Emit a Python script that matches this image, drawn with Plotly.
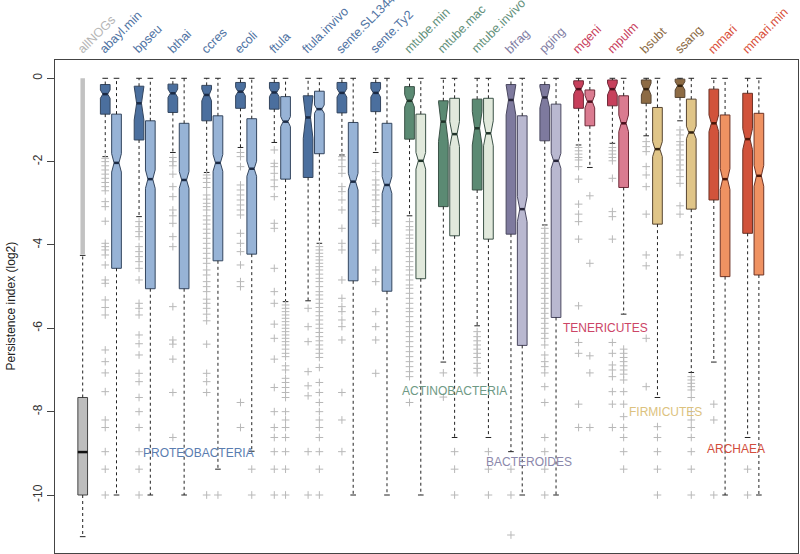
import plotly.graph_objects as go

# ---------------- data ----------------
species = ["abayl.min", "bpseu", "bthai", "ccres", "ecoli", "ftula", "ftula.invivo",
           "sente.SL1344", "sente.Ty2", "mtube.min", "mtube.mac", "mtube.invivo",
           "bfrag", "pging", "mgeni", "mpulm", "bsubt", "ssang", "mmari", "mmari.min"]
phylum = ["PROTEOBACTERIA"] * 9 + ["ACTINOBACTERIA"] * 3 + ["BACTEROIDES"] * 2 + \
         ["TENERICUTES"] * 2 + ["FIRMICUTES"] * 2 + ["ARCHAEA"] * 2

# first (dark) box of each pair
dark_hi = [0, 0, 0, 0, 0, 0, 0, 0, 0, 0, 0, 0, 0, 0, 0, 0, 0, 0, 0, 0]
dark_q3 = [-0.15, -0.19, -0.14, -0.17, -0.10, -0.10, -0.42, -0.10, -0.10, -0.20,
           -0.54, -0.50, -0.15, -0.15, -0.06, -0.04, -0.04, -0.02, -0.26, -0.36]
dark_med = [-0.38, -0.60, -0.36, -0.40, -0.32, -0.34, -0.94, -0.35, -0.35, -0.54,
            -1.04, -1.20, -0.52, -0.46, -0.26, -0.26, -0.26, -0.18, -1.08, -1.46]
dark_q1 = [-0.86, -1.48, -0.82, -1.02, -0.72, -0.74, -2.38, -0.83, -0.80, -1.46,
           -3.08, -2.68, -3.74, -1.50, -0.72, -0.66, -0.60, -0.46, -2.92, -3.72]
dark_lo = [-1.88, -3.32, -1.78, -2.26, -1.66, -1.54, -5.34, -1.84, -1.78, -3.30,
           -6.81, -5.94, -8.96, -3.52, -1.60, -1.56, -1.38, -1.02, -6.81, -8.62]
dark_notch = [0.10, 0.40, 0.10, 0.14, 0.10, 0.10, 0.50, 0.10, 0.10, 0.15,
              0.48, 0.40, 0.36, 0.25, 0.12, 0.14, 0.14, 0.10, 0.20, 0.25]

# second (light) box of each pair
light_hi = [0, 0, 0, 0, 0, 0, 0, 0, 0, 0, 0, 0, 0, 0, 0, 0, 0, 0, 0, 0]
light_q3 = [-0.86, -1.02, -1.08, -0.90, -0.97, -0.44, -0.31, -1.06, -1.08, -0.86,
            -0.48, -0.48, -0.90, -0.62, -0.28, -0.42, -0.70, -0.50, -0.88, -0.84]
light_med = [-2.03, -2.42, -2.44, -2.03, -2.17, -1.04, -0.74, -2.48, -2.56, -1.98,
             -1.34, -1.32, -3.14, -1.98, -0.56, -1.08, -1.70, -1.30, -2.42, -2.34]
light_q1 = [-4.56, -5.05, -5.05, -4.38, -4.22, -2.42, -1.81, -4.86, -5.11, -4.81,
            -3.78, -3.86, -6.41, -5.74, -1.14, -2.62, -3.50, -3.14, -4.76, -4.72]
light_lo = [-10, -10, -10, -9.38, -8.95, -5.36, -3.96, -10, -10, -10,
            -8.62, -8.62, -10, -10, -2.14, -5.66, -7.66, -7.06, -10, -10]
light_notch = [0.22, 0.22, 0.20, 0.20, 0.18, 0.12, 0.10, 0.20, 0.20, 0.20,
               0.30, 0.30, 0.30, 0.18, 0.15, 0.20, 0.18, 0.15, 0.25, 0.25]

dark_outliers = [
    [-1.92, -2.0, -2.1, -2.2, -2.3, -2.4, -2.5, -2.6, -2.7, -2.96, -3.08, -3.43, -3.96, -4.04, -4.12,
     -4.24, -4.48, -4.84, -4.92, -5.32, -5.5, -5.68, -6.52, -6.8, -7.07, -7.52, -8.2, -8.38, -8.96, -9.38, -10],
    [-3.44, -3.56, -3.68, -3.8, -4.04, -4.16, -4.28, -4.4, -4.56, -4.84, -5.4, -5.52, -5.68, -6.16,
     -6.37, -6.64, -7.08, -7.28, -7.66, -8.0, -8.38, -8.96, -9.38, -10],
    [-1.9, -2.0, -2.1, -2.3, -2.6, -2.84, -3.16, -3.3, -3.48, -3.8, -4.04, -5.48, -6.28, -6.38, -6.74,
     -7.54, -8.62],
    [-2.32, -2.4, -2.5, -2.62, -2.8, -2.9, -3.0, -3.08, -3.16, -3.3, -3.4, -3.5, -3.62, -3.72, -3.84,
     -3.96, -4.08, -4.2, -4.32, -4.44, -4.6, -4.72, -4.88, -5.0, -5.12, -5.3, -5.4, -5.52, -5.66, -5.82,
     -6.38, -7.08, -7.28, -7.54, -10],
    [-1.78, -1.88, -2.12, -2.56, -2.68, -2.8, -2.92, -3.04, -3.16, -3.28, -3.72, -3.96, -4.16, -4.48,
     -4.88, -5.0, -7.78, -8.38],
    [-1.72, -2.04, -2.12, -2.28, -2.44, -2.6, -2.84, -3.48, -3.6, -4.56, -5.12, -5.4, -5.9, -6.24,
     -6.74, -7.42, -8.0, -8.38, -8.62, -8.96, -9.38, -10],
    [-5.52, -5.96, -6.32, -7.04, -7.38, -7.62, -8.96, -10],
    [-1.88, -1.96, -2.12, -2.28, -2.6, -2.72, -2.92, -3.16, -3.6, -3.96, -4.12, -4.84, -5.28, -5.48,
     -5.6, -5.8, -5.96, -6.28, -7.54, -8.2, -8.96],
    [-2.04, -2.24, -2.44, -2.56, -2.68, -2.8, -2.92, -3.08, -3.2, -3.4, -3.48, -3.96, -4.12, -4.6,
     -4.88, -5.6, -5.96, -6.28, -7.08],
    [-3.44, -3.56, -3.64, -3.76, -3.84, -3.96, -4.08, -4.16, -4.28, -4.4, -4.52, -4.6, -4.72, -4.84,
     -4.96, -5.04, -5.16, -5.28, -5.4, -5.52, -5.6, -5.72, -5.84, -5.96, -6.08, -6.2, -6.32, -6.44,
     -6.56, -6.68, -6.8, -6.92, -7.04, -7.16, -7.78],
    [-7.07, -7.65],
    [-6.08, -6.2, -6.3, -6.4, -6.5, -6.6, -6.7, -6.84, -6.96, -7.07],
    [-9.38, -10, -10.96],
    [-3.6, -3.72, -3.84, -3.96, -4.08, -4.2, -4.32, -4.44, -4.56, -4.68, -4.8, -4.92, -5.04, -5.16,
     -5.28, -5.4, -5.52, -5.64, -5.76, -5.88, -6.0, -6.12, -6.24, -6.4, -6.64, -6.8, -6.92, -7.07,
     -7.4, -7.78, -8.62, -8.96, -9.38, -10],
    [-1.66, -1.74, -1.82, -1.9, -1.96, -2.12, -2.42, -3.02, -3.26, -3.44, -3.86, -5.46, -6.34, -6.6,
     -7.82, -8.38],
    [-1.66, -1.74, -1.82, -1.9, -1.98, -2.4, -3.2, -3.32, -3.86, -6.34, -6.6, -6.88, -7.0, -7.16,
     -7.52, -7.82, -8.38],
    [-1.52, -1.64, -1.76, -2.12, -2.32, -2.6, -3.26, -4.24, -4.5, -6.24, -7.4],
    [-1.24, -1.36, -1.52, -1.6, -1.72, -1.84, -1.96, -2.08, -2.2, -2.36, -2.52, -3.06, -3.26, -4.24],
    [-7.82, -8.2, -10],
    [-9.38, -10],
]
light_outliers = [
    [], [], [], [-10], [-9.38, -10],
    [-5.44, -5.52, -5.6, -5.68, -5.76, -5.84, -5.92, -6.0, -6.08, -6.16, -6.24, -6.32, -6.4, -6.5,
     -6.6, -6.68, -6.9, -7.0, -7.2, -7.3, -7.42, -7.54, -7.66, -8.0, -8.2, -8.38, -8.62, -8.96, -9.38, -10],
    [-4.04, -4.12, -4.2, -4.28, -4.36, -4.44, -4.52, -4.6, -4.7, -4.8, -4.88, -5.0, -5.12, -5.2, -5.3,
     -5.4, -5.5, -5.6, -5.7, -5.8, -5.9, -6.0, -6.1, -6.2, -6.3, -6.4, -6.5, -6.6, -6.7, -6.94, -7.3,
     -7.54, -7.78, -8.0, -8.2, -8.38, -8.62, -8.96, -9.38, -10],
    [], [], [],
    [-8.96, -9.38, -10],
    [-8.96, -9.38, -10],
    [], [],
    [-2.82, -4.44, -6.66, -7.07, -8.38],
    [-6.5, -6.6, -6.7, -6.8, -6.9, -7.0, -7.1, -7.24, -7.52, -7.82, -8.12, -8.38, -8.62, -8.96, -9.38],
    [-8.36, -8.62, -8.96, -9.38, -10],
    [-7.16, -7.24, -7.32, -7.4, -7.48, -7.66, -8.0, -8.2, -8.38, -8.62, -8.96, -9.38, -10],
    [], [],
]

allnogs_label = "allNOGs"
allnogs_hi, allnogs_q3, allnogs_med, allnogs_q1, allnogs_lo = -4.25, -7.66, -8.97, -10.0, -11.0
allnogs_outlier_span = [-4.22, 0.0]

yticks = [0, -2, -4, -6, -8, -10]

# ---------------- styles ----------------
STY = {
    "PROTEOBACTERIA": dict(dark="#4b6f9e", light="#97b3d6", line="#34465f", med="#1b2a44",
                           lab="#4f73a3", txt="#5a7db0", pos=10.3, val=-9.0),
    "ACTINOBACTERIA": dict(dark="#5b8a73", light="#e1e9dc", line="#3b5247", med="#1f3329",
                           lab="#62907a", txt="#6e9984", pos=32.95, val=-7.5),
    "BACTEROIDES": dict(dark="#7e7a9e", light="#b9b8d0", line="#4a4860", med="#262438",
                        lab="#807ca3", txt="#8b88ab", pos=39.6, val=-9.2),
    "TENERICUTES": dict(dark="#c73f5b", light="#da7b90", line="#6e2a38", med="#4a0f1c",
                        lab="#c8405d", txt="#cc4566", pos=46.43, val=-6.0),
    "FIRMICUTES": dict(dark="#8d6b44", light="#e0c588", line="#574532", med="#33220f",
                       lab="#8b6a45", txt="#dcc27e", pos=51.67, val=-8.0),
    "ARCHAEA": dict(dark="#d1533b", light="#ef9262", line="#6e3326", med="#4a1608",
                    lab="#d9503c", txt="#d24d3c", pos=57.97, val=-8.9),
}
BOXW = 0.86
FONT = "Liberation Sans, Arial, sans-serif"

fig = go.Figure()

boxes = []  # (pos, hi, q3, med, q1, lo, notch, fill, line, med_col, outliers)
for i, sp in enumerate(species):
    s = STY[phylum[i]]
    pd_, pl_ = 2 + 3 * i, 3 + 3 * i
    boxes.append((pd_, dark_hi[i], dark_q3[i], dark_med[i], dark_q1[i], dark_lo[i], dark_notch[i],
                  s["dark"], s["line"], s["med"], dark_outliers[i]))
    boxes.append((pl_, light_hi[i], light_q3[i], light_med[i], light_q1[i], light_lo[i], light_notch[i],
                  s["light"], s["line"], s["med"], light_outliers[i]))

# whiskers (dashed) and staples
wx, wy, cx, cy = [], [], [], []
allb = [(0, allnogs_hi, allnogs_q3, allnogs_med, allnogs_q1, allnogs_lo)] + [b[:6] for b in boxes]
for (p, hi, q3, med, q1, lo) in allb:
    if hi > q3:
        wx += [p, p, None]; wy += [q3, hi, None]
        cx += [p - 0.25, p + 0.25, None]; cy += [hi, hi, None]
    if lo < q1:
        wx += [p, p, None]; wy += [q1, lo, None]
        cx += [p - 0.25, p + 0.25, None]; cy += [lo, lo, None]

# allNOGs dense outlier band
fig.add_trace(go.Scatter(x=[0, 0], y=allnogs_outlier_span, mode="lines",
                         line=dict(color="#c2c2c2", width=4.5), hoverinfo="skip", showlegend=False))

fig.add_trace(go.Scatter(x=wx, y=wy, mode="lines", line=dict(color="#222222", width=1, dash="3px,3px"),
                         hoverinfo="skip", showlegend=False))
fig.add_trace(go.Scatter(x=cx, y=cy, mode="lines", line=dict(color="#222222", width=1),
                         hoverinfo="skip", showlegend=False))

# outliers
ox, oy = [], []
for b in boxes:
    for v in b[10]:
        ox.append(b[0]); oy.append(v)
fig.add_trace(go.Scatter(x=ox, y=oy, mode="markers",
                         marker=dict(symbol="cross-thin", size=5.5, color="#b8b8b8",
                                     line=dict(width=1, color="#b8b8b8")),
                         hoverinfo="skip", showlegend=False))

# allNOGs box
fig.add_trace(go.Box(x=[0], q1=[allnogs_q1], median=[allnogs_med], q3=[allnogs_q3],
                     lowerfence=[allnogs_q1], upperfence=[allnogs_q3], width=BOXW,
                     fillcolor="#bdbdbd", line=dict(color="#444444", width=1), whiskerwidth=0,
                     boxpoints=False, showlegend=False, hoverinfo="skip"))

shapes = []
shapes.append(dict(type="line", xref="x", yref="y", x0=-BOXW / 2, x1=BOXW / 2,
                   y0=allnogs_med, y1=allnogs_med, line=dict(color="#111111", width=2.5), layer="above"))

for (p, hi, q3, med, q1, lo, notch, fill, lc, mc, outl) in boxes:
    fig.add_trace(go.Box(x=[p], q1=[q1], median=[med], q3=[q3], lowerfence=[q1], upperfence=[q3],
                         notched=True, notchspan=[notch], notchwidth=0.25, width=BOXW,
                         fillcolor=fill, line=dict(color=lc, width=1), whiskerwidth=0,
                         boxpoints=False, showlegend=False, hoverinfo="skip"))
    shapes.append(dict(type="line", xref="x", yref="y", x0=p - BOXW / 4, x1=p + BOXW / 4,
                       y0=med, y1=med, line=dict(color=mc, width=2.5), layer="above"))

annotations = []
# top rotated labels
top_labels = [(0, allnogs_label, "#b5b5b5")] + \
    [(2 + 3 * i, sp, STY[phylum[i]]["lab"]) for i, sp in enumerate(species)]
for p, t, c in top_labels:
    annotations.append(dict(x=p, y=1, xref="x", yref="paper", text=t, showarrow=False,
                            textangle=-45, xanchor="left", yanchor="bottom",
                            xshift=-11, yshift=1, font=dict(size=12.5, color=c, family=FONT)))
# phylum labels
for name, s in STY.items():
    annotations.append(dict(x=s["pos"], y=s["val"], xref="x", yref="y", text=name, showarrow=False,
                            font=dict(size=12, color=s["txt"], family=FONT)))
# y title
annotations.append(dict(x=0, y=0.5, xref="paper", yref="paper", text="Persistence index (log2)",
                        showarrow=False, textangle=-90, xanchor="center", yanchor="middle",
                        xshift=-45, font=dict(size=12, color="#222222", family=FONT)))

fig.update_layout(
    width=800, height=554, autosize=False,
    margin=dict(l=55, r=2, t=60, b=1, pad=0),
    paper_bgcolor="white", plot_bgcolor="white",
    boxmode="overlay", showlegend=False,
    font=dict(family=FONT, size=12, color="#333333"),
    shapes=shapes, annotations=annotations,
    xaxis=dict(range=[-2.458, 63.47], type="linear", showgrid=False, zeroline=False, automargin=False,
               showticklabels=False, ticks="", showline=True, mirror=True,
               linecolor="#444444", linewidth=1),
    yaxis=dict(range=[-11.392, 0.439], showgrid=False, zeroline=False, showline=True, mirror=True,
               automargin=False,
               linecolor="#444444", linewidth=1, ticks="outside", ticklen=7, tickcolor="#444444",
               tickvals=yticks, ticktext=[str(v) for v in yticks], tickangle=-90,
               tickfont=dict(size=12, color="#333333", family=FONT)),
)

fig.write_html("out.html", config={"displayModeBar": False},
               post_script="document.body.style.margin='0';document.body.style.padding='0';"
                           "document.body.style.overflow='hidden';")
